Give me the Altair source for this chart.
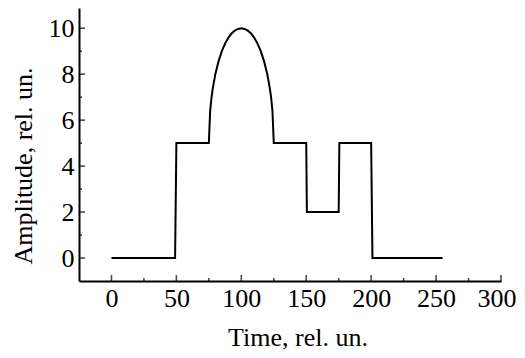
import altair as alt
import pandas as pd

# Signal samples (time, amplitude)
time = [0, 49, 50, 75, 76, 77, 78, 80, 82.5, 85, 87.5, 90, 92.5, 95, 97.5, 100,
        102.5, 105, 107.5, 110, 112.5, 115, 117.5, 120, 122, 123, 124, 125,
        150, 150.5, 175, 175.5, 200, 201, 255]
amp = [0, 0, 5, 5, 6.4, 6.96, 7.37, 8.0, 8.57, 9.0, 9.33, 9.58, 9.77, 9.9, 9.97, 10,
       9.97, 9.9, 9.77, 9.58, 9.33, 9.0, 8.57, 8.0, 7.37, 6.96, 6.4, 5,
       5, 2, 2, 5, 5, 0, 0]

x_major = [0, 50, 100, 150, 200, 250, 300]
x_minor = [25, 75, 125, 175, 225, 275]
y_major = [0, 2, 4, 6, 8, 10]
y_minor = [1, 3, 5, 7, 9]

X_DOMAIN = [-25, 300]
Y_DOMAIN = [-1, 10.88]
FONT = "Liberation Serif"

W, H = 422, 273

df = pd.DataFrame({"t": time, "a": amp, "i": list(range(len(time)))})

xs = alt.Scale(domain=X_DOMAIN, nice=False, zero=False)
ys = alt.Scale(domain=Y_DOMAIN, nice=False, zero=False)

x_axis = alt.Axis(values=x_major, title="Time, rel. un.", grid=False,
                  ticks=False, labelPadding=4,
                  domainColor="black", domainWidth=2,
                  labelFont=FONT, labelFontSize=26, labelColor="black",
                  titleFont=FONT, titleFontSize=26, titleFontWeight="normal",
                  titleColor="black", titleX=218.5, titleY=64,
                  titleBaseline="alphabetic", titleAlign="center",
                  labelFlush=1, labelFlushOffset=15)
y_axis = alt.Axis(values=y_major, title="Amplitude, rel. un.", grid=False,
                  ticks=False, labelPadding=5,
                  domainColor="black", domainWidth=2,
                  labelFont=FONT, labelFontSize=26, labelColor="black",
                  titleFont=FONT, titleFontSize=26, titleFontWeight="normal",
                  titleColor="black", titleX=-48, titleY=157.5,
                  titleAngle=-90, titleBaseline="alphabetic",
                  titleAlign="center", labelFlush=False)

line = alt.Chart(df).mark_line(color="black", strokeWidth=2).encode(
    x=alt.X("t:Q", scale=xs, axis=x_axis),
    y=alt.Y("a:Q", scale=ys, axis=y_axis),
    order="i:Q",
)

def xticks(vals, size):
    d = pd.DataFrame({"t": vals})
    return alt.Chart(d).mark_tick(orient="vertical", size=size, thickness=1.6,
                                  color="black", yOffset=-size / 2).encode(
        x=alt.X("t:Q", scale=xs, axis=x_axis),
        y=alt.YDatum(Y_DOMAIN[0], scale=ys, axis=y_axis),
    )

def yticks(vals, size):
    d = pd.DataFrame({"a": vals})
    return alt.Chart(d).mark_tick(orient="horizontal", size=size, thickness=1.6,
                                  color="black", xOffset=size / 2).encode(
        x=alt.XDatum(X_DOMAIN[0], scale=xs, axis=x_axis),
        y=alt.Y("a:Q", scale=ys, axis=y_axis),
    )

chart = alt.layer(
    line, xticks(x_major, 6), xticks(x_minor, 3), yticks(y_major, 6), yticks(y_minor, 3)
).properties(
    width=W, height=H,
    autosize=alt.AutoSizeParams(type="none"),
    padding={"left": 71, "top": 0, "right": 16, "bottom": 69},
).configure(
    background="white",
    view=alt.ViewConfig(stroke="transparent", strokeWidth=0),
)

chart.save("out.html", embed_options={"renderer": "svg", "actions": False})
